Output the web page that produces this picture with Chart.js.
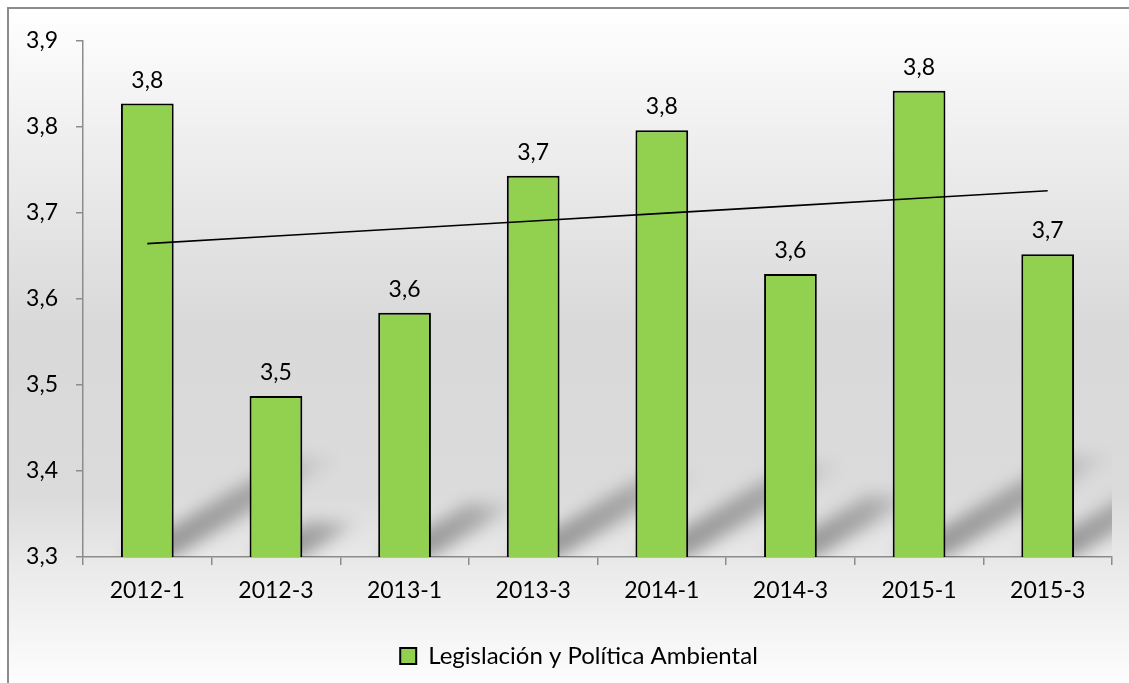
<!DOCTYPE html>
<html>
<head>
<meta charset="utf-8">
<title>Legislación y Política Ambiental</title>
<script src="https://cdn.jsdelivr.net/npm/chart.js@4/dist/chart.umd.min.js"></script>
<style>
    html, body { margin: 0; padding: 0; background: #fff; }
    #page {
        position: relative;
        width: 1129px;
        height: 683px;
        overflow: hidden;
    }
    #frame {
        position: absolute;
        left: 7px;
        top: 7px;
        border-left: 2px solid #8c8c8c;
        border-top: 2px solid #8c8c8c;
    }
    canvas { display: block; }
</style>
</head>
<body>
<div id="page">
    <div id="frame">
        <canvas id="myChart" width="1140" height="674"></canvas>
    </div>
</div>
<script>
// periods and average score per period
const periods = ['2012-1', '2012-3', '2013-1', '2013-3', '2014-1', '2014-3', '2015-1', '2015-3'];
const scores = [3.827, 3.487, 3.584, 3.743, 3.796, 3.629, 3.842, 3.652];
const yTicks = [3.3, 3.4, 3.5, 3.6, 3.7, 3.8, 3.9];
const seriesName = 'Legislación y Política Ambiental';

const fontFamily = 'Lato, "Open Sans", sans-serif';
const fontSize = 23;

// linear trend (least squares) over the period index
function linearTrend(values) {
    const n = values.length;
    let mx = (n - 1) / 2;
    let my = values.reduce((a, b) => a + b, 0) / n;
    let sxy = 0, sxx = 0;
    for (let i = 0; i < n; i++) {
        sxy += (i - mx) * (values[i] - my);
        sxx += (i - mx) * (i - mx);
    }
    const slope = sxy / sxx;
    return values.map((v, i) => my + slope * (i - mx));
}

const fmt = v => (Math.round(v * 10) / 10).toFixed(1).replace('.', ',');

// grey background, lighter at top and bottom
const backgroundPlugin = {
    id: 'background',
    beforeDraw(chart) {
        const { ctx, width, height } = chart;
        const g = ctx.createLinearGradient(0, 0, 0, height);
        g.addColorStop(0, '#ffffff');
        g.addColorStop(0.2, '#eeeeee');
        g.addColorStop(0.47, '#d9d9d9');
        g.addColorStop(0.72, '#dbdbdb');
        g.addColorStop(0.82, '#e9e9e9');
        g.addColorStop(1, '#fdfdfd');
        ctx.save();
        ctx.fillStyle = g;
        ctx.fillRect(0, 0, width, height);
        ctx.restore();
    }
};

// soft diagonal shadow cast by each bar on the floor
const barShadows = {
    id: 'barShadows',
    beforeDatasetsDraw(chart) {
        const meta = chart.getDatasetMeta(1);
        const area = chart.chartArea;
        const yScale = chart.scales.y;
        const base = yScale.getPixelForValue(yScale.min);
        const ctx = chart.ctx;
        ctx.save();
        ctx.beginPath();
        ctx.rect(area.left, area.top, area.right - area.left, area.bottom - area.top);
        ctx.clip();
        ctx.filter = 'blur(8px)';
        meta.data.forEach((bar, i) => {
            const top = yScale.getPixelForValue(scores[i]);
            const h = base - top;
            const w = bar.width;
            const xl = bar.x - w / 2;
            const xr = bar.x + w / 2;
            const dx = h * 0.37;
            const dy = h * 0.22;
            const g = ctx.createLinearGradient(xr, base, xr + dx, base - dy);
            g.addColorStop(0, 'rgba(0,0,0,0.34)');
            g.addColorStop(0.55, 'rgba(0,0,0,0.24)');
            g.addColorStop(1, 'rgba(0,0,0,0)');
            ctx.fillStyle = g;
            ctx.beginPath();
            ctx.moveTo(xl, base);
            ctx.lineTo(xr, base);
            ctx.lineTo(xr + dx, base - dy);
            ctx.lineTo(xl + dx, base - dy);
            ctx.closePath();
            ctx.fill();
        });
        ctx.restore();
    }
};

// value labels above the bars
const valueLabels = {
    id: 'valueLabels',
    afterDatasetsDraw(chart) {
        const meta = chart.getDatasetMeta(1);
        const ctx = chart.ctx;
        ctx.save();
        ctx.font = fontSize + 'px ' + fontFamily;
        ctx.fillStyle = '#000';
        ctx.textAlign = 'center';
        ctx.textBaseline = 'alphabetic';
        meta.data.forEach((bar, i) => {
            ctx.fillText(fmt(scores[i]), bar.x, bar.y - 16);
        });
        ctx.restore();
    }
};

const myChart = document.getElementById('myChart').getContext('2d');

new Chart(myChart, {
    type: 'bar',
    data: {
        labels: periods,
        datasets: [
            {
                type: 'line',
                label: 'Tendencia',
                data: linearTrend(scores),
                borderColor: '#000',
                borderWidth: 1.6,
                pointRadius: 0,
                fill: false,
                order: 0
            },
            {
                label: seriesName,
                data: scores,
                backgroundColor: '#92d050',
                borderColor: '#000',
                borderWidth: 2,
                barPercentage: 0.41,
                categoryPercentage: 1,
                order: 1
            }
        ]
    },
    options: {
        responsive: false,
        animation: false,
        layout: { padding: { top: 27, right: 0, bottom: 5, left: 0 } },
        scales: {
            x: {
                afterFit: scale => { scale.height = 77; },
                grid: {
                    offset: true,
                    drawOnChartArea: false,
                    tickLength: 8,
                    color: '#8c8c8c',
                    lineWidth: 1.5
                },
                border: { color: '#8c8c8c', width: 1.5 },
                ticks: {
                    color: '#000',
                    padding: 12,
                    font: { family: fontFamily, size: fontSize }
                }
            },
            y: {
                min: 3.3,
                max: 3.9,
                afterFit: scale => { scale.width = 74; },
                afterBuildTicks: scale => { scale.ticks = yTicks.map(v => ({ value: v })); },
                grid: {
                    drawOnChartArea: false,
                    tickLength: 7,
                    color: '#8c8c8c',
                    lineWidth: 1.5
                },
                border: { color: '#8c8c8c', width: 1.5 },
                ticks: {
                    color: '#000',
                    padding: 18,
                    callback: v => fmt(v),
                    font: { family: fontFamily, size: fontSize }
                }
            },
            // empty right margin so the legend stays centred on the whole frame
            yRight: {
                position: 'right',
                afterFit: scale => { scale.width = 37; },
                grid: { display: false },
                border: { display: false },
                ticks: { display: false }
            }
        },
        plugins: {
            legend: {
                position: 'bottom',
                labels: {
                    filter: item => item.text === seriesName,
                    boxWidth: 16,
                    boxHeight: 16,
                    padding: 10,
                    color: '#000',
                    font: { family: fontFamily, size: 24 }
                }
            },
            tooltip: { enabled: false }
        }
    },
    plugins: [backgroundPlugin, barShadows, valueLabels]
});
</script>
</body>
</html>
